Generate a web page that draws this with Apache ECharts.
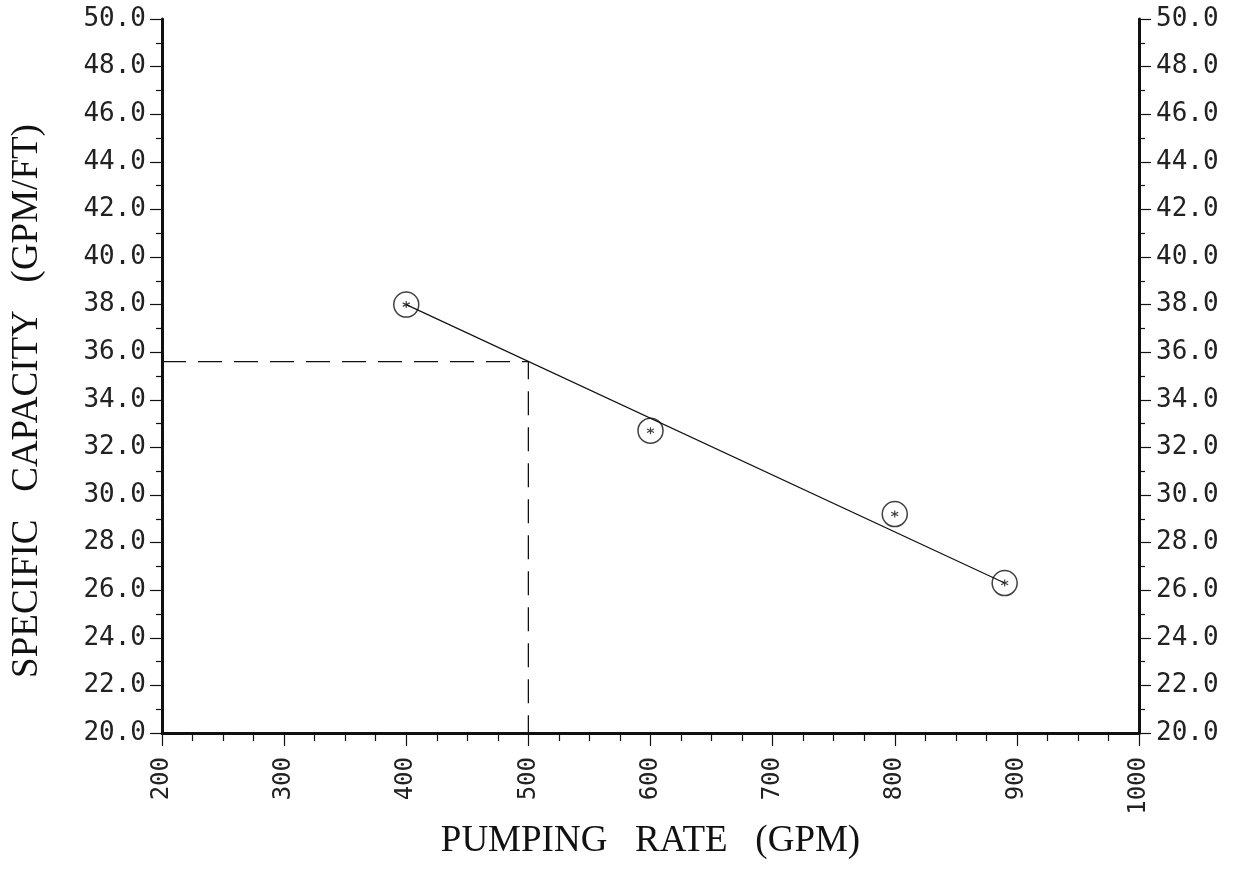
<!DOCTYPE html>
<html>
<head>
<meta charset="utf-8">
<script src="https://cdn.jsdelivr.net/npm/echarts@6/dist/echarts.min.js"></script>
<style>html,body{margin:0;padding:0;background:#fff;}#c{width:1242px;height:875px;}</style>
</head>
<body>
<div id="c"></div>
<script>
// Measured data points
const pumpRate = [400, 600, 800, 890];
const specCap = [38.0, 32.7, 29.2, 26.3];
// Fitted straight line end points
const fitX = [400, 890];
const fitY = [38.0, 26.3];
// Reading at 500 GPM
const readX = [200, 500, 500];
const readY = [35.6, 35.6, 20.0];
// Axis settings
const xMin = 200, xMax = 1000, xStep = 100;
const yMin = 20, yMax = 50, yStep = 2;
const xTitle = 'PUMPING   RATE   (GPM)';
const yTitle = 'SPECIFIC   CAPACITY   (GPM/FT)';

const zip = (a, b) => a.map((v, i) => [v, b[i]]);
const labelFont = 'DejaVu Sans Mono';
const titleFont = 'Liberation Serif';
const ink = '#111';

const yAxisBase = (pos) => ({
  type: 'value', position: pos, min: yMin, max: yMax, interval: yStep,
  axisLine: { show: true, lineStyle: { color: ink, width: 3 } },
  axisTick: { show: true, length: 12, lineStyle: { color: ink, width: 1.2 } },
  minorTick: { show: true, splitNumber: 2, length: 6, lineStyle: { color: ink, width: 1.2 } },
  splitLine: { show: false },
  axisLabel: { show: true, fontFamily: labelFont, fontSize: 26, color: '#222',
    margin: pos === 'left' ? 16 : 17, formatter: v => v.toFixed(1) }
});

const chart = echarts.init(document.getElementById('c'), null, { renderer: 'canvas' });
chart.setOption({
  animation: false,
  backgroundColor: '#fff',
  grid: { left: 162, right: 103, top: 19, bottom: 142, containLabel: false },
  xAxis: {
    type: 'value', min: xMin, max: xMax, interval: xStep,
    name: xTitle, nameLocation: 'middle', nameGap: 88,
    nameTextStyle: { fontFamily: titleFont, fontSize: 37, color: ink },
    axisLine: { show: true, lineStyle: { color: ink, width: 3 } },
    axisTick: { show: true, length: 13, lineStyle: { color: ink, width: 1.2 } },
    minorTick: { show: true, splitNumber: 4, length: 8, lineStyle: { color: ink, width: 1.2 } },
    splitLine: { show: false },
    axisLabel: { rotate: 90, margin: 24, fontFamily: labelFont, fontSize: 24, color: '#222',
      formatter: v => String(v) }
  },
  yAxis: [
    Object.assign(yAxisBase('left'), {
      name: yTitle, nameLocation: 'middle', nameGap: 116, nameRotate: 90,
      nameTextStyle: { fontFamily: titleFont, fontSize: 37, color: ink, padding: [0, 50, 0, 0] }
    }),
    yAxisBase('right')
  ],
  series: [
    {
      type: 'line', data: zip(readX, readY), showSymbol: false, silent: true,
      lineStyle: { color: ink, width: 1.3, type: [24, 12] }
    },
    {
      type: 'line', data: zip(fitX, fitY), showSymbol: false, silent: true,
      lineStyle: { color: ink, width: 1.2 }
    },
    {
      type: 'scatter', data: zip(pumpRate, specCap), symbol: 'circle', symbolSize: 25,
      itemStyle: { color: 'rgba(0,0,0,0)', borderColor: ink, borderWidth: 1.5 }
    },
    {
      type: 'scatter', data: zip(pumpRate, specCap),
      symbol: 'path://M5,0L5,10M0.67,2.5L9.33,7.5M0.67,7.5L9.33,2.5', symbolSize: 7,
      itemStyle: { color: 'none', borderColor: ink, borderWidth: 1.2 }
    }
  ]
});
</script>
</body>
</html>
